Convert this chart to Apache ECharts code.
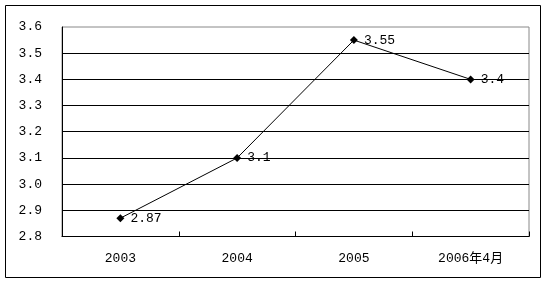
<!DOCTYPE html>
<html><head><meta charset="utf-8">
<script src="https://cdn.jsdelivr.net/npm/echarts@6/dist/echarts.min.js"></script>
<style>html,body{margin:0;padding:0;background:#fff}#c{width:546px;height:286px}</style>
</head><body><div id="c"></div>
<script>
var categories = ['2003', '2004', '2005', '2006年4月'];
var values = [2.87, 3.1, 3.55, 3.4];
var yMin = 2.8, yMax = 3.6, yStep = 0.1;

var chart = echarts.init(document.getElementById('c'), null, {renderer: 'canvas'});
var font = '"Liberation Mono", "Noto Sans CJK SC", monospace';
chart.setOption({
  animation: false,
  backgroundColor: '#fff',
  graphic: [{type: 'rect', shape: {x: 5.5, y: 5.5, width: 535, height: 272}, style: {fill: 'none', stroke: '#000', lineWidth: 1}}],
  grid: {left: 62, right: 17, top: 27, bottom: 49.5, show: true, borderColor: '#888', borderWidth: 1, backgroundColor: 'transparent'},
  xAxis: {
    type: 'category', data: categories, boundaryGap: true,
    axisLine: {lineStyle: {color: '#000', width: 1}},
    axisTick: {show: true, inside: true, length: 5, lineStyle: {color: '#000'}},
    axisLabel: {color: '#000', fontFamily: font, fontSize: 13, margin: 16},
    splitLine: {show: false}
  },
  yAxis: {
    type: 'value', min: yMin, max: yMax, interval: yStep,
    axisLine: {show: true, lineStyle: {color: '#000', width: 1}},
    axisTick: {show: false},
    axisLabel: {color: '#000', fontFamily: font, fontSize: 13, margin: 20,
      formatter: function (v) { return v.toFixed(1); }},
    splitLine: {show: true, showMaxLine: false, lineStyle: {color: '#000', width: 1}}
  },
  series: [{
    type: 'line', data: values,
    symbol: 'diamond', symbolSize: 8,
    itemStyle: {color: '#000'},
    lineStyle: {color: '#000', width: 1},
    label: {show: true, position: 'right', distance: 6, color: '#000', fontFamily: font, fontSize: 13,
      formatter: function (p) { return String(p.value); }}
  }]
});
</script></body></html>
